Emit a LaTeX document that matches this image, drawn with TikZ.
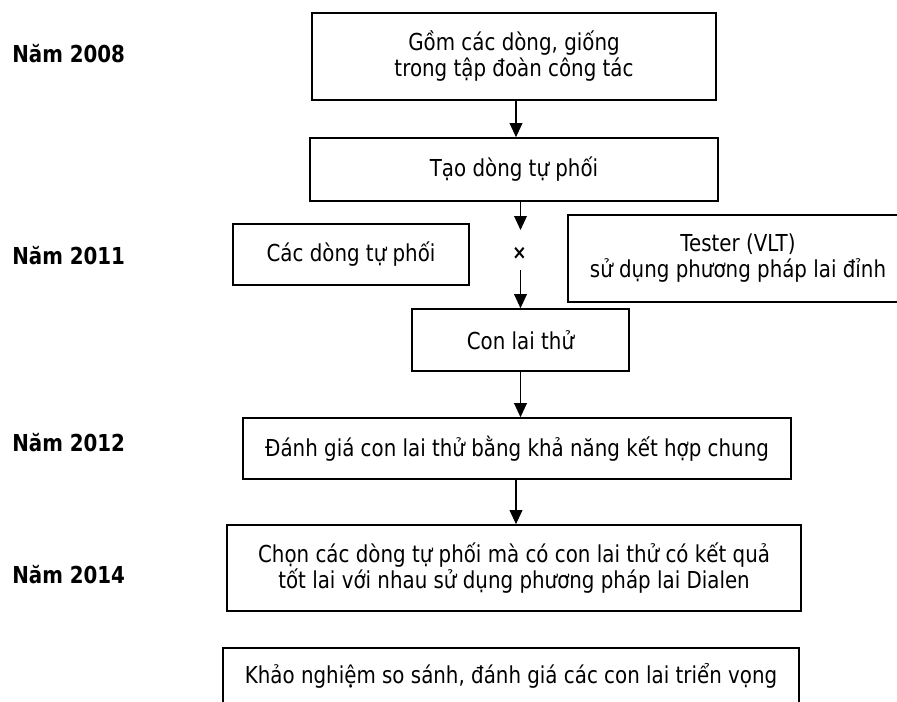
\documentclass[tikz,border=0pt]{standalone}
\usepackage{fontspec}
\setmainfont{DejaVu Sans}[FakeStretch=0.85]
\usetikzlibrary{arrows.meta,positioning}

\begin{document}
\begin{tikzpicture}[x=0.75pt,y=-0.75pt,>={Triangle[length=10.5pt,width=9.5pt]}]
            \tikzstyle{box}=[rectangle,draw,line width=1.2pt,inner sep=0pt,align=center,font=\fontsize{17.5}{19.5}\selectfont]
            \tikzstyle{year}=[anchor=west,inner sep=0pt,font=\fontsize{17.5}{19.5}\selectfont\bfseries]

            \tikzstyle{every edge}=[draw,line width=1pt]

            \useasboundingbox (0,0) rectangle (897,701);

            % years
            \node[year] (y8)  at (12,  54) {Năm 2008};
            \node[year] (y11) at (12, 256) {Năm 2011};
            \node[year] (y12) at (12, 443) {Năm 2012};
            \node[year] (y14) at (12, 575) {Năm 2014};

            % main column
            \node[box,minimum width=303pt,minimum height=65.25pt] (b1) at (514,  56.5) {Gồm các dòng, giống\\trong tập đoàn công tác};
            \node[box,minimum width=306pt,minimum height=47.25pt] (b2) at (514, 169.5) {Tạo dòng tự phối};
            \node[box,minimum width=177pt,minimum height=45.75pt] (in) at (351, 254.5) {Các dòng tự phối};
            \node[box,minimum width=255pt,minimum height=65.25pt] (ts) at (738, 258.5) {Tester (VLT)\\sử dụng phương pháp lai đỉnh};
            \node[box,minimum width=162.75pt,minimum height=46.5pt] (b3) at (520.5,340) {Con lai thử};
            \node[box,minimum width=411pt,minimum height=45.75pt] (b4) at (517, 448.5) {Đánh giá con lai thử bằng khả năng kết hợp chung};
            \node[box,minimum width=430.5pt,minimum height=64.5pt] (b5) at (514, 568) {Chọn các dòng tự phối mà có con lai thử có kết quả\\tốt lai với nhau sử dụng phương pháp lai Dialen};
            \node[box,minimum width=432pt,minimum height=42pt] (b6) at (511, 676) {Khảo nghiệm so sánh, đánh giá các con lai triển vọng};

            \node[font=\fontsize{15}{15}\selectfont\bfseries] (x) at (519.5,253) {×};
            \coordinate (c1) at (520.5,230);
            \coordinate (c2) at (520.5,270);

            \path[->] (b1.south -| 516,0) edge (b2.north -| 516,0);
            \path[->] (b2.south -| c1) edge (c1);
            \path[->] (c2) edge (b3);
            \path[->] (b3) edge (b3.south |- b4.north);
            \path[->] (b4.south -| 516,0) edge (b5.north -| 516,0);
        \end{tikzpicture}
\end{document}
